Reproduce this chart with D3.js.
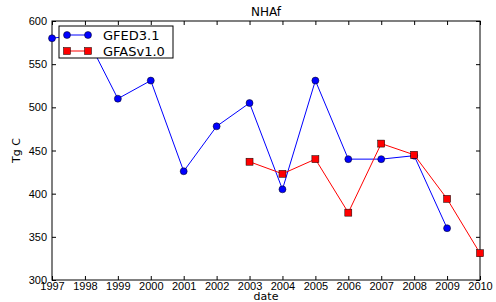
<!DOCTYPE html>
<html>
<head>
<meta charset="utf-8">
<script src="https://cdn.jsdelivr.net/npm/d3@7"></script>
<style>
	body { margin: 0; background: #fff; }
	svg { font-family: "DejaVu Sans", sans-serif; }
	.axis path, .axis line { stroke: #000; }
	.axis text { font-size: 11px; fill: #000; }
</style>
</head>
<body>
<div id="graph"></div>
<script>
var gfedYears = [1997, 1998, 1999, 2000, 2001, 2002, 2003, 2004, 2005, 2006, 2007, 2008, 2009];
var gfedValues = [580, 585, 510, 531, 426, 478, 505, 405, 531, 440, 440, 444, 360];
var gfasYears = [2003, 2004, 2005, 2006, 2007, 2008, 2009, 2010];
var gfasValues = [437, 423, 440, 378, 458, 445, 394, 331];
var xTicks = [1997, 1998, 1999, 2000, 2001, 2002, 2003, 2004, 2005, 2006, 2007, 2008, 2009, 2010];
var yTicks = [300, 350, 400, 450, 500, 550, 600];

var width = 496, height = 302;
var margin = {top: 21, right: 16, bottom: 22, left: 52};
var w = width - margin.left - margin.right;
var h = height - margin.top - margin.bottom;

var svg = d3.select("#graph")
	.append("svg")
	.attr("width", width)
	.attr("height", height);

var x = d3.scaleLinear().domain([1997, 2010]).range([0, w]);
var y = d3.scaleLinear().domain([300, 600]).range([h, 0]);

var g = svg.append("g")
	.attr("transform", "translate(" + margin.left + "," + margin.top + ")");

// frame
g.append("rect")
	.attr("width", w).attr("height", h)
	.attr("fill", "none").attr("stroke", "#000").attr("stroke-width", 1);

// axes, ticks pointing inward on all four sides
g.append("g").attr("class", "axis")
	.attr("transform", "translate(0," + h + ")")
	.call(d3.axisBottom(x).tickValues(xTicks).tickFormat(d3.format("d")).tickSizeInner(-4).tickSizeOuter(0).tickPadding(2));
g.append("g").attr("class", "axis")
	.call(d3.axisTop(x).tickValues(xTicks).tickFormat("").tickSizeInner(-4).tickSizeOuter(0));
g.append("g").attr("class", "axis")
	.call(d3.axisLeft(y).tickValues(yTicks).tickSizeInner(-4).tickSizeOuter(0).tickPadding(5));
g.append("g").attr("class", "axis")
	.attr("transform", "translate(" + w + ",0)")
	.call(d3.axisRight(y).tickValues(yTicks).tickFormat("").tickSizeInner(-4).tickSizeOuter(0));
g.selectAll(".axis .domain").remove();

var plot = g.append("g");

var gfed = gfedYears.map(function(d, i) { return [d, gfedValues[i]]; });
var gfas = gfasYears.map(function(d, i) { return [d, gfasValues[i]]; });
var line = d3.line().x(function(d) { return x(d[0]); }).y(function(d) { return y(d[1]); });

plot.append("path").datum(gfed)
	.attr("d", line).attr("fill", "none").attr("stroke", "#0000ff").attr("stroke-width", 1);
plot.selectAll("circle").data(gfed).enter().append("circle")
	.attr("cx", function(d) { return x(d[0]); })
	.attr("cy", function(d) { return y(d[1]); })
	.attr("r", 3.5)
	.attr("fill", "#0000ff").attr("stroke", "#000").attr("stroke-width", 0.5);

plot.append("path").datum(gfas)
	.attr("d", line).attr("fill", "none").attr("stroke", "#ff0000").attr("stroke-width", 1);
plot.selectAll("rect.sq").data(gfas).enter().append("rect")
	.attr("class", "sq")
	.attr("x", function(d) { return x(d[0]) - 3.5; })
	.attr("y", function(d) { return y(d[1]) - 3.5; })
	.attr("width", 7).attr("height", 7)
	.attr("fill", "#ff0000").attr("stroke", "#000").attr("stroke-width", 0.5);

// legend
var legend = svg.append("g").attr("transform", "translate(59,26)");
legend.append("rect").attr("width", 114).attr("height", 32)
	.attr("fill", "#fff").attr("stroke", "#000").attr("stroke-width", 1);
var items = [
	{name: "GFED3.1", color: "#0000ff", shape: "circle"},
	{name: "GFASv1.0", color: "#ff0000", shape: "square"}
];
items.forEach(function(it, i) {
	var yy = 9 + i * 16;
	legend.append("line").attr("x1", 8).attr("x2", 29).attr("y1", yy).attr("y2", yy)
		.attr("stroke", it.color).attr("stroke-width", 1);
	[8, 29].forEach(function(xx) {
		if (it.shape == "circle") {
			legend.append("circle").attr("cx", xx).attr("cy", yy).attr("r", 3.5)
				.attr("fill", it.color).attr("stroke", "#000").attr("stroke-width", 0.5);
		} else {
			legend.append("rect").attr("x", xx - 3.5).attr("y", yy - 3.5).attr("width", 7).attr("height", 7)
				.attr("fill", it.color).attr("stroke", "#000").attr("stroke-width", 0.5);
		}
	});
	legend.append("text").attr("x", 44).attr("y", yy + 5)
		.attr("font-size", "13px").text(it.name);
});

// title and labels
svg.append("text").attr("x", margin.left + w / 2).attr("y", 16)
	.attr("text-anchor", "middle").attr("font-size", "12px").text("NHAf");
svg.append("text").attr("x", margin.left + w / 2).attr("y", 300)
	.attr("text-anchor", "middle").attr("font-size", "11px").text("date");
svg.append("text").attr("transform", "translate(20," + (margin.top + h / 2) + ") rotate(-90)")
	.attr("text-anchor", "middle").attr("font-size", "11px").text("Tg C");
</script>
</body>
</html>
